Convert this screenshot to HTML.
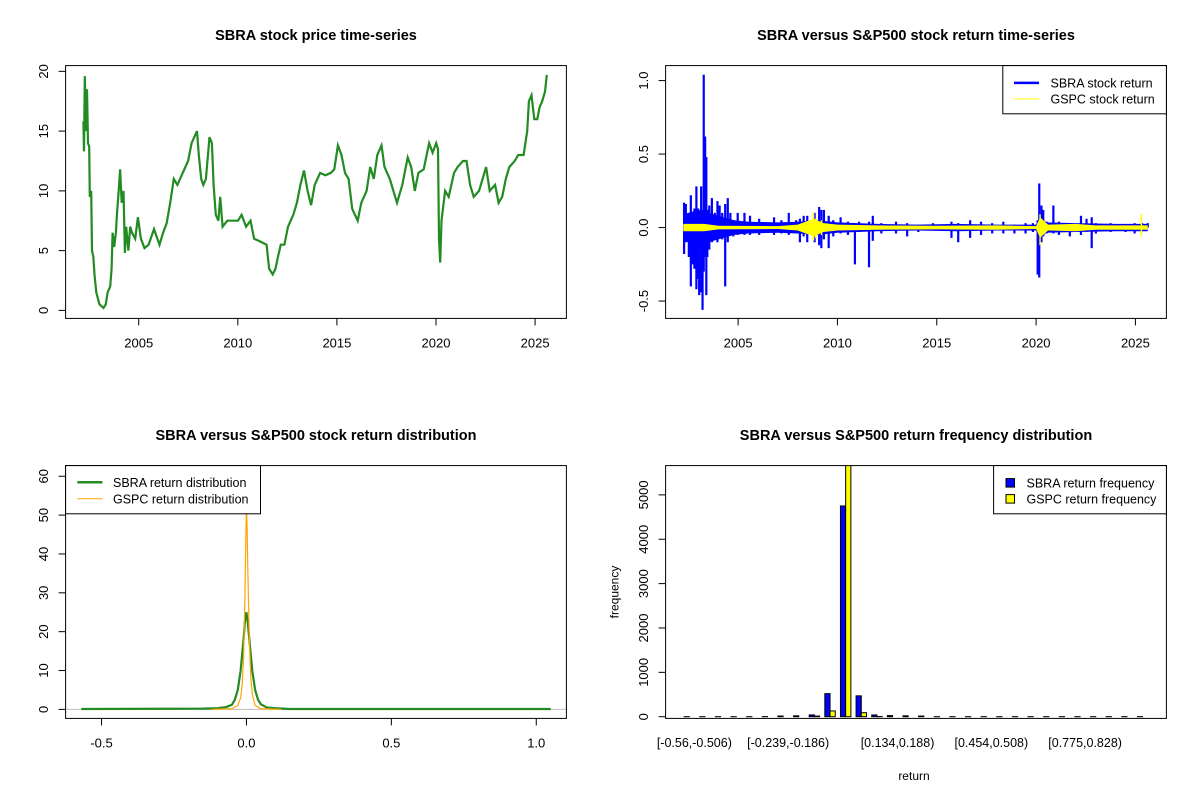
<!DOCTYPE html>
<html><head><meta charset="utf-8"><title>SBRA charts</title>
<style>
html,body{margin:0;padding:0;background:#fff;}
svg{display:block;font-family:"Liberation Sans",Arial,sans-serif;}
</style></head>
<body>
<svg id="fig" width="1200" height="800" viewBox="0 0 1200 800" xmlns="http://www.w3.org/2000/svg">
<rect width="1200" height="800" fill="#fff"/>
<defs>
<clipPath id="cTL"><rect x="65.6" y="65.6" width="500.8" height="252.8"/></clipPath>
<clipPath id="cTR"><rect x="65.6" y="65.6" width="500.8" height="252.8" transform="translate(600,0)"/></clipPath>
<clipPath id="cBL"><rect x="65.6" y="465.6" width="500.8" height="252.8"/></clipPath>
<clipPath id="cBR"><rect x="665.6" y="465.6" width="500.8" height="252.8"/></clipPath>
</defs>
</svg>
<script>
// ---- price series (top-left) ----
const priceYears = [2002.21,2002.24,2002.28,2002.35,2002.39,2002.44,2002.50,2002.53,2002.60,2002.64,2002.71,2002.77,2002.86,2003.02,2003.22,2003.34,2003.43,2003.56,2003.63,2003.68,2003.76,2003.85,2003.90,2003.99,2004.06,2004.14,2004.23,2004.30,2004.37,2004.48,2004.57,2004.66,2004.82,2004.96,2005.11,2005.29,2005.50,2005.77,2006.05,2006.23,2006.41,2006.59,2006.77,2006.95,2007.22,2007.49,2007.67,2007.94,2008.03,2008.15,2008.26,2008.39,2008.57,2008.69,2008.78,2008.89,2009.02,2009.11,2009.23,2009.47,2009.74,2010.01,2010.19,2010.42,2010.64,2010.82,2011.09,2011.45,2011.58,2011.76,2011.90,2012.03,2012.17,2012.35,2012.53,2012.80,2012.98,2013.16,2013.34,2013.52,2013.70,2013.88,2014.15,2014.42,2014.69,2014.87,2015.05,2015.23,2015.41,2015.59,2015.77,2016.05,2016.23,2016.50,2016.68,2016.86,2017.04,2017.25,2017.40,2017.67,2017.85,2018.03,2018.30,2018.57,2018.75,2018.93,2019.11,2019.38,2019.65,2019.83,2020.01,2020.10,2020.15,2020.21,2020.28,2020.46,2020.64,2020.91,2021.09,2021.36,2021.54,2021.72,2021.90,2022.17,2022.35,2022.53,2022.71,2022.98,2023.16,2023.34,2023.52,2023.70,2023.97,2024.15,2024.42,2024.60,2024.69,2024.82,2024.96,2025.11,2025.23,2025.36,2025.50,2025.59];
const priceVals = [15.8,13.3,19.6,15,18.5,14,13.7,9.5,10,5,4.5,3,1.5,0.5,0.2,0.5,1.5,2,3.5,6.5,5.3,6.5,8,10,11.8,9,10,4.8,7,5,7,6.5,6,7.8,6,5.2,5.5,6.8,5.5,6.5,7.3,9,11,10.5,11.5,12.5,14,15,13,11,10.5,11,14.5,14,10.5,8,7.5,9.5,7,7.5,7.5,7.5,8,7,7.5,6,5.8,5.5,3.5,3.0,3.5,4.5,5.5,5.5,7,8,9,10.5,11.7,10,8.8,10.5,11.5,11.3,11.5,11.8,13.8,13,11.5,11,8.5,7.5,9,10,12,11,13,13.8,12,11,10,9,10.5,12.8,12,10,11.5,11.8,14,13.2,14,13.5,6,4,7.5,10,9.5,11.5,12,12.5,12.5,10.5,9.5,10,11,12,10,10.5,9,9.5,11,12,12.5,13,13,15,17.5,18,16,16,17,17.5,18.3,19.7];
const priceXTicks = [2005,2010,2015,2020,2025];
const priceYTicks = [0,5,10,15,20];

// ---- returns (top-right) ----
const sbraSpikeYears = [2002.28,2002.37,2002.52,2002.62,2002.71,2002.80,2002.90,2002.99,2003.04,2003.14,2003.21,2003.27,2003.34,2003.40,2003.45,2003.55,2003.68,2003.83,2003.96,2004.07,2004.20,2004.35,2004.48,2004.61,2004.76,2004.98,2005.32,2005.60,2006.06,2006.81,2007.18,2007.55,2007.92,2008.11,2008.30,2008.48,2008.85,2009.08,2009.19,2009.32,2009.56,2009.79,2010.16,2010.53,2010.88,2011.09,2011.59,2011.78,2012.21,2012.95,2013.51,2014.07,2014.81,2015.74,2016.08,2016.68,2017.23,2017.79,2018.35,2018.91,2019.47,2019.84,2020.08,2020.16,2020.27,2020.36,2020.53,2020.87,2021.15,2021.70,2022.26,2022.54,2022.80,2023.01,2023.75,2024.50,2024.96,2025.34,2025.62];
const sbraSpikeHi = [0.17,0.16,0.05,0.22,0.1,0.13,0.28,0.13,0.05,0.28,0.12,1.04,0.62,0.48,0.12,0.15,0.2,0.1,0.18,0.15,0.1,0.16,0.2,0.1,0.05,0.1,0.1,0.08,0.06,0.07,0.05,0.1,0.05,0.06,0.08,0.08,0.1,0.14,0.12,0.12,0.08,0.05,0.07,0.04,0.02,0.04,0.04,0.08,0.03,0.04,0.03,0.02,0.03,0.04,0.03,0.05,0.04,0.03,0.04,0.02,0.03,0.03,0.05,0.3,0.15,0.12,0.04,0.15,0.04,0.03,0.08,0.06,0.07,0.03,0.03,0.02,0.03,0.03,0.03];
const sbraSpikeLo = [-0.18,-0.1,-0.2,-0.4,-0.25,-0.28,-0.42,-0.35,-0.46,-0.44,-0.56,-0.3,-0.2,-0.46,-0.2,-0.15,-0.1,-0.08,-0.1,-0.06,-0.08,-0.4,-0.1,-0.05,-0.06,-0.05,-0.05,-0.05,-0.05,-0.05,-0.04,-0.05,-0.04,-0.1,-0.06,-0.1,-0.1,-0.12,-0.14,-0.08,-0.14,-0.06,-0.04,-0.05,-0.25,-0.03,-0.27,-0.09,-0.04,-0.04,-0.06,-0.03,-0.02,-0.07,-0.1,-0.07,-0.05,-0.04,-0.04,-0.04,-0.04,-0.03,-0.32,-0.34,-0.1,-0.06,-0.04,-0.04,-0.05,-0.06,-0.05,-0.03,-0.14,-0.04,-0.03,-0.03,-0.04,-0.02,0];
const sbraBandYears = [2002.24,2003.0,2004.0,2004.8,2005.5,2007.0,2008.0,2009.0,2010.0,2012.0,2014.0,2016.0,2018.0,2020.0,2020.2,2020.5,2022.0,2024.0,2025.62];
const sbraBandAmp = [0.09,0.12,0.08,0.05,0.04,0.035,0.04,0.05,0.035,0.025,0.02,0.025,0.02,0.02,0.08,0.035,0.03,0.025,0.025];
const gspcBandYears = [2002.24,2003.3,2004.0,2007.0,2008.0,2008.8,2009.3,2010.0,2012.0,2015.0,2018.0,2020.0,2020.2,2020.6,2022.0,2023.0,2025.62];
const gspcBandAmp = [0.025,0.025,0.012,0.01,0.02,0.06,0.03,0.02,0.015,0.012,0.015,0.01,0.07,0.02,0.025,0.015,0.015];
const gspcSpikeYears = [2008.8,2008.9,2009.2,2020.2,2020.25,2025.3];
const gspcSpikeHi = [0.1,0.06,0.05,0.09,0.06,0.09];
const gspcSpikeLo = [-0.09,-0.07,-0.05,-0.12,-0.06,-0.06];
const retYTicks = [-0.5,0,0.5,1.0];
const retYLabels = ["-0.5","0.0","0.5","1.0"];

// ---- density (bottom-left) ----
const sbraDensX = [-0.57,-0.15,-0.1,-0.07,-0.05,-0.04,-0.03,-0.02,-0.01,-0.005,0,0.005,0.01,0.02,0.03,0.04,0.05,0.07,0.1,0.15,1.05];
const sbraDensY = [0.1,0.2,0.3,0.6,1.2,2.5,5,10,18,23,25,22,18,10,5,2.5,1.3,0.5,0.3,0.1,0.1];
const gspcDensX = [-0.12,-0.05,-0.03,-0.02,-0.015,-0.01,-0.005,-0.002,0,0.002,0.005,0.01,0.015,0.02,0.03,0.05,0.12];
const gspcDensY = [0,0.2,1,3,6,13,30,45,52,48,35,18,8,4,1,0.2,0];
const densXTicks = [-0.5,0,0.5,1.0];
const densXLabels = ["-0.5","0.0","0.5","1.0"];
const densYTicks = [0,10,20,30,40,50,60];

// ---- frequency bars (bottom-right) ----
const sbraCounts = [1,1,1,1,1,2,15,20,40,520,4750,470,40,25,20,15,1,1,1,1,1,1,1,1,1,1,1,1,1,1];
const gspcCounts = [0,0,0,0,0,0,0,0,15,130,5700,90,5,0,0,0,0,0,0,0,0,0,0,0,0,0,0,0,0,0];
const binLabelIdx = [0,6,13,19,25];
const binLabels = ["[-0.56,-0.506)","[-0.239,-0.186)","[0.134,0.188)","[0.454,0.508)","[0.775,0.828)"];
const freqYTicks = [0,1000,2000,3000,4000,5000];

const NS = "http://www.w3.org/2000/svg";
const svg = document.getElementById('fig');
function mk(tag, attrs, parent){const e=document.createElementNS(NS,tag);for(const k in attrs)e.setAttribute(k,attrs[k]);(parent||svg).appendChild(e);return e;}
function lin(d0,d1,p0,p1){return v=>p0+(v-d0)*(p1-p0)/(d1-d0);}
function txt(x,y,s,opts,parent){const t=mk('text',Object.assign({x:x,y:y,'text-anchor':'middle','font-size':13,fill:'#000'},opts||{}),parent);t.textContent=s;return t;}

function axes(panel, X, Y, xt, xl, yt, yl, L, T, R, B){
  const box=mk('rect',{x:L,y:T,width:R-L,height:B-T,fill:'none',stroke:'#000','stroke-width':1});
  
  
  if(xt){
    xt.forEach((v,i)=>{
      const x=X(v);
      const tk=mk('line',{x1:x,x2:x,y1:B,y2:B+7,stroke:'#000'});
      
      
      const lb=txt(x,B+29,xl[i]);
      
      
    });
  }
  yt.forEach((v,i)=>{
    const y=Y(v);
    const tk=mk('line',{x1:L-7,x2:L,y1:y,y2:y,stroke:'#000'});
    
    
    const lb=txt(L-22,y,yl[i],{transform:`rotate(-90 ${L-22} ${y})`});
    
    
  });
}
function title(x,y,s,name){const t=txt(x,y,s,{'font-size':14.5,'font-weight':'bold'});}

// ===== Top-left =====
{
  const X=lin(2001.31,2026.58,65.6,566.4), Y=lin(-0.67,20.48,318.4,65.6);
  title(316,40,"SBRA stock price time-series","price-chart-title");
  const g=mk('g',{'clip-path':'url(#cTL)'});
  const pts=priceYears.map((t,i)=>X(t).toFixed(1)+','+Y(priceVals[i]).toFixed(1)).join(' ');
  const pl=mk('polyline',{points:pts,fill:'none',stroke:'#228B22','stroke-width':2.2,'stroke-linejoin':'miter'},g);
  
  
  axes('price',X,Y,priceXTicks,priceXTicks.map(String),priceYTicks,priceYTicks.map(String),65.6,65.6,566.4,318.4);
}

// ===== Top-right =====
{
  const X=lin(2001.35,2026.56,665.6,1166.4), Y=lin(-0.618,1.102,318.4,65.6);
  title(916,40,"SBRA versus S&P500 stock return time-series","returns-chart-title");
  const g=mk('g',{'clip-path':'url(#cTR)'});
  const up=sbraBandYears.map((t,i)=>X(t)+','+Y(sbraBandAmp[i]));
  const dn=sbraBandYears.map((t,i)=>X(t)+','+Y(-sbraBandAmp[i])).reverse();
  const band=mk('polygon',{points:up.concat(dn).join(' '),fill:'#0000FF'},g);
  
  
  sbraSpikeYears.forEach((t,i)=>{
    const s=mk('line',{x1:X(t),x2:X(t),y1:Y(sbraSpikeLo[i]),y2:Y(sbraSpikeHi[i]),stroke:'#0000FF','stroke-width':2.2},g);
    
    
  });
  const up2=gspcBandYears.map((t,i)=>X(t)+','+Y(gspcBandAmp[i]));
  const dn2=gspcBandYears.map((t,i)=>X(t)+','+Y(-gspcBandAmp[i])).reverse();
  const band2=mk('polygon',{points:up2.concat(dn2).join(' '),fill:'#FFFF00'},g);
  
  
  gspcSpikeYears.forEach((t,i)=>{
    const s=mk('line',{x1:X(t),x2:X(t),y1:Y(gspcSpikeLo[i]),y2:Y(gspcSpikeHi[i]),stroke:'#FFFF00','stroke-width':1.5},g);
    
    
  });
  axes('returns',X,Y,priceXTicks,priceXTicks.map(String),retYTicks,retYLabels,665.6,65.6,1166.4,318.4);
  const lg=mk('g',{});
  
  
  mk('rect',{x:1002.8,y:65.6,width:163.6,height:48.2,fill:'#fff',stroke:'#000'},lg);
  mk('line',{x1:1014,x2:1039,y1:82.9,y2:82.9,stroke:'#0000FF','stroke-width':2.5},lg);
  mk('line',{x1:1014,x2:1039,y1:98.9,y2:98.9,stroke:'#FFFF00','stroke-width':1},lg);
  const a=txt(1050.5,87.5,"SBRA stock return",{'text-anchor':'start','font-size':12.5},lg);
  
  
  const b=txt(1050.5,103.5,"GSPC stock return",{'text-anchor':'start','font-size':12.5},lg);
  
  
}

// ===== Bottom-left =====
{
  const X=lin(-0.624,1.104,65.6,566.4), Y=lin(-2.32,62.74,718.4,465.6);
  title(316,440,"SBRA versus S&P500 stock return distribution","density-chart-title");
  const g=mk('g',{'clip-path':'url(#cBL)'});
  const zl=mk('line',{x1:65.6,x2:566.4,y1:Y(0),y2:Y(0),stroke:'#bebebe'},g);
  
  
  const p1=mk('polyline',{points:sbraDensX.map((v,i)=>X(v)+','+Y(sbraDensY[i])).join(' '),fill:'none',stroke:'#228B22','stroke-width':2.2},g);
  
  
  const p2=mk('polyline',{points:gspcDensX.map((v,i)=>X(v)+','+Y(gspcDensY[i])).join(' '),fill:'none',stroke:'#FFA500','stroke-width':1.2},g);
  
  
  axes('density',X,Y,densXTicks,densXLabels,densYTicks,densYTicks.map(String),65.6,465.6,566.4,718.4);
  const lg=mk('g',{});
  
  
  mk('rect',{x:65.6,y:465.6,width:194.9,height:48.2,fill:'#fff',stroke:'#000'},lg);
  mk('line',{x1:77.4,x2:102.4,y1:482.2,y2:482.2,stroke:'#228B22','stroke-width':2.5},lg);
  mk('line',{x1:77.4,x2:102.4,y1:498.8,y2:498.8,stroke:'#FFA500','stroke-width':1},lg);
  const a=txt(113,486.8,"SBRA return distribution",{'text-anchor':'start','font-size':12.5},lg);
  
  
  const b=txt(113,503.4,"GSPC return distribution",{'text-anchor':'start','font-size':12.5},lg);
  
  
}

// ===== Bottom-right =====
{
  const X=lin(-2.56,93.56,665.6,1166.4), Y=lin(-38.3,5660,718.4,465.6);
  title(916,440,"SBRA versus S&P500 return frequency distribution","frequency-chart-title");
  const g=mk('g',{'clip-path':'url(#cBR)'});
  sbraCounts.forEach((c,i)=>{
    const x0=1+3*i;
    const r=mk('rect',{x:X(x0),y:Y(c),width:X(x0+1)-X(x0),height:Math.max(0,Y(0)-Y(c)),fill:'#0000FF',stroke:'#000','stroke-width':1},g);
    
    
    const c2=gspcCounts[i];
    const r2=mk('rect',{x:X(x0+1),y:Y(c2),width:X(x0+2)-X(x0+1),height:Math.max(0,Y(0)-Y(c2)),fill:'#FFFF00',stroke:'#000','stroke-width':1},g);
    
    
  });
  const box=mk('rect',{x:665.6,y:465.6,width:500.8,height:252.8,fill:'none',stroke:'#000'});
  
  
  freqYTicks.forEach(v=>{
    const y=Y(v);
    const tk=mk('line',{x1:658.6,x2:665.6,y1:y,y2:y,stroke:'#000'});
    
    
    const lb=txt(643.6,y,String(v),{transform:`rotate(-90 643.6 ${y})`});
    
    
  });
  binLabelIdx.forEach((bi,k)=>{
    const lb=txt(X(3*bi+2)+5,747,binLabels[k],{'font-size':12.5});
    
    
  });
  const xt=txt(914,780,"return",{'font-size':12});
  
  
  const yt=txt(614.5,592,"frequency",{'font-size':12,transform:'rotate(-90 614.5 592)'});
  
  
  const lg=mk('g',{});
  
  
  mk('rect',{x:993.6,y:465.6,width:172.8,height:48.2,fill:'#fff',stroke:'#000'},lg);
  mk('rect',{x:1006,y:478.6,width:8.5,height:8.5,fill:'#0000FF',stroke:'#000'},lg);
  mk('rect',{x:1006,y:494.6,width:8.5,height:8.5,fill:'#FFFF00',stroke:'#000'},lg);
  const a=txt(1026.5,487.5,"SBRA return frequency",{'text-anchor':'start','font-size':12.5},lg);
  
  
  const b=txt(1026.5,503.5,"GSPC return frequency",{'text-anchor':'start','font-size':12.5},lg);
  
  
}
// vertical centering for rotated labels
document.querySelectorAll('text').forEach(t=>{ if(t.getAttribute('transform')) t.setAttribute('dominant-baseline','central'); });
</script>
</body></html>
